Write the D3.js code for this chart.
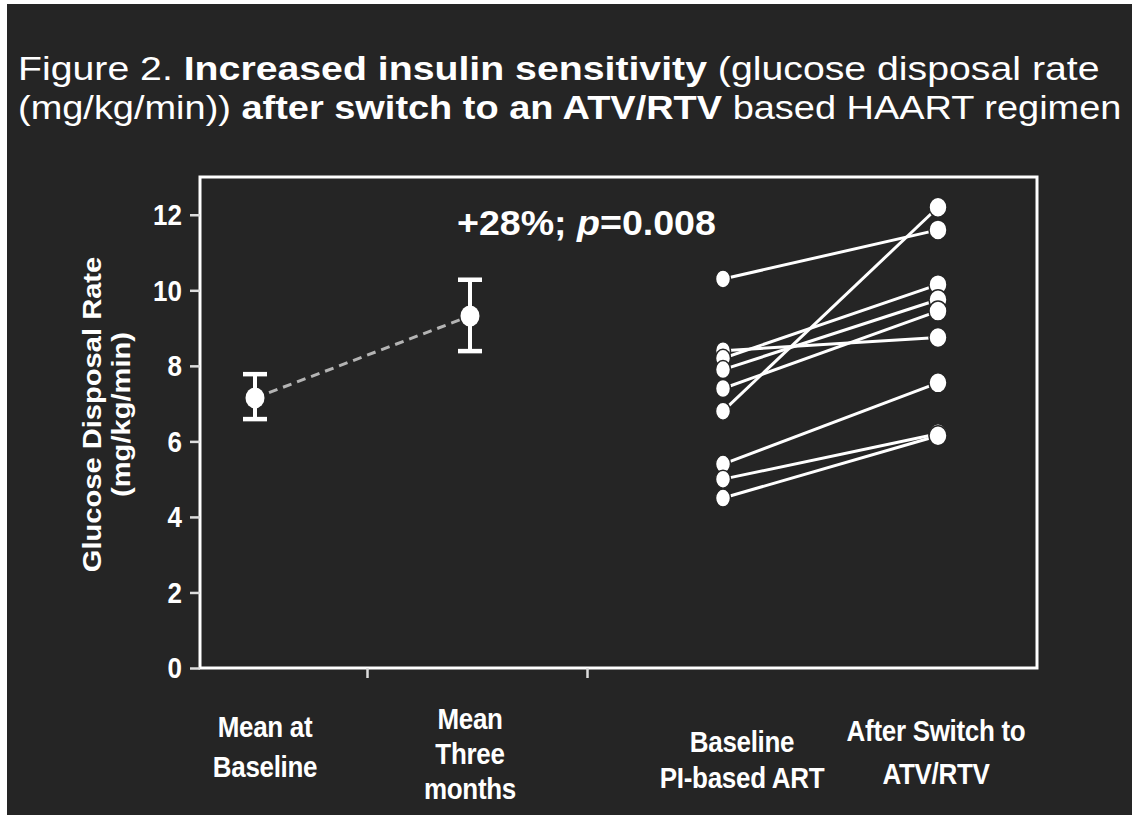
<!DOCTYPE html>
<html>
<head>
<meta charset="utf-8">
<script src="https://cdn.jsdelivr.net/npm/d3@7"></script>
<style>
body { margin: 0; background: #fff; }
svg { display: block; font-family: "Liberation Sans", Arial, sans-serif; }
text { white-space: pre; }
</style>
</head>
<body>
<svg id="chart" width="1132" height="815"></svg>
<script>
// left panel: group means with error bars
var summaryLabels = [["Mean at", "Baseline"], ["Mean", "Three", "months"]];
var summaryMean = [7.15, 9.32];
var summaryHigh = [7.78, 10.28];
var summaryLow = [6.59, 8.39];

// right panel: individual patients, before / after
var pairedLabels = [["Baseline", "PI-based ART"], ["After Switch to", "ATV/RTV"]];
var baselineValues = [10.3, 8.4, 8.2, 7.9, 7.4, 6.8, 5.4, 5.0, 4.5];
var afterValues = [11.6, 8.75, 10.15, 9.75, 9.45, 12.2, 7.55, 6.2, 6.15];

var yTicks = [0, 2, 4, 6, 8, 10, 12];
var yLabel = ["Glucose Disposal Rate", "(mg/kg/min)"];
var titleLine1 = [["Figure 2. ", false], ["Increased insulin sensitivity", true], [" (glucose disposal rate", false]];
var titleLine2 = [["(mg/kg/min)) ", false], ["after switch to an ATV/RTV", true], [" based HAART regimen", false]];

var svg = d3.select("#chart");
var bg = "#252525";

svg.append("rect").attr("x", 7).attr("y", 4).attr("width", 1125).attr("height", 811).attr("fill", bg);

var pLeft = 200, pRight = 1037, pTop = 177, pBottom = 668;

var y = d3.scaleLinear().domain([0, 13]).range([pBottom, pTop]);
var xSummary = d3.scalePoint().domain(summaryLabels.map(function(d) { return d.join(" "); })).range([255, 470]);
var xPaired = d3.scalePoint().domain(pairedLabels.map(function(d) { return d.join(" "); })).range([723, 938]);

// the scan is a little stretched vertically, so text is too
var stretchY = 1.12;

// Title, stretched to the width it has in the figure
function drawTitle(parts, ty, targetW) {
  var g = svg.append("g");
  var t = g.append("text").attr("fill", "#fff").style("font-size", "32px");
  parts.forEach(function(p) {
    t.append("tspan").text(p[0]).style("font-weight", p[1] ? "bold" : "normal");
  });
  var w = t.node().getComputedTextLength();
  g.attr("transform", "translate(18," + ty + ") scale(" + (targetW / w) + ",1.05)");
}
drawTitle(titleLine1, 80, 1082);
drawTitle(titleLine2, 119, 1104);

// Frame
svg.append("rect")
  .attr("x", pLeft).attr("y", pTop)
  .attr("width", pRight - pLeft).attr("height", pBottom - pTop)
  .attr("fill", "none").attr("stroke", "#fff").attr("stroke-width", 3);

// Y axis
var yAxis = d3.axisLeft(y).tickValues(yTicks).tickSize(10).tickPadding(8);
var ya = svg.append("g").attr("transform", "translate(" + pLeft + ",0)").call(yAxis);
ya.select(".domain").remove();
ya.selectAll(".tick line").attr("stroke", "#ddd").attr("stroke-width", 2.5);
ya.selectAll(".tick text")
  .attr("fill", "#fff")
  .style("font-size", "26px").style("font-weight", "bold")
  .attr("transform", "scale(1," + stretchY + ")")
  .attr("dy", "0.34em");

// X ticks: between the two means, and between the panels
var xTickPos = [
  (xSummary.range()[0] + xSummary.range()[1]) / 2 + 5,
  (xSummary.range()[1] + xPaired.range()[0]) / 2 - 9
];
svg.selectAll(".xtick").data(xTickPos).enter().append("line")
  .attr("x1", function(d) { return d; }).attr("x2", function(d) { return d; })
  .attr("y1", pBottom).attr("y2", pBottom + 10)
  .attr("stroke", "#ddd").attr("stroke-width", 2.5);

// Y label (rotated, so the vertical stretch lengthens it)
yLabel.forEach(function(s, i) {
  svg.append("text")
    .attr("transform", "translate(" + (101 + i * 29) + "," + ((pTop + pBottom) / 2 - 8) + ") rotate(-90) scale(" + stretchY + ",1)")
    .attr("text-anchor", "middle")
    .attr("fill", "#fff")
    .style("font-size", "26px").style("font-weight", "bold")
    .text(s);
});

// Category labels
function drawCategory(lines, cx, firstY, step) {
  lines.forEach(function(s, i) {
    svg.append("text")
      .attr("transform", "translate(" + cx + "," + (firstY + i * step) + ") scale(1," + stretchY + ")")
      .attr("text-anchor", "middle").attr("fill", "#fff")
      .style("font-size", "26px").style("font-weight", "bold").style("letter-spacing", "-0.3px")
      .text(s);
  });
}
summaryLabels.forEach(function(d, i) {
  drawCategory(d, xSummary(d.join(" ")) + (i === 0 ? 10 : 0), i === 0 ? 737 : 729, i === 0 ? 40 : 35);
});
pairedLabels.forEach(function(d, i) {
  drawCategory(d, xPaired(d.join(" ")) + (i === 0 ? 19 : -2), i === 0 ? 752 : 741, i === 0 ? 36 : 43);
});

// Summary panel: dashed link, error bars, mean points
var sx = summaryLabels.map(function(d) { return xSummary(d.join(" ")); });
svg.append("line")
  .attr("x1", sx[0]).attr("y1", y(summaryMean[0]))
  .attr("x2", sx[1]).attr("y2", y(summaryMean[1]))
  .attr("stroke", "#b4b4b4").attr("stroke-width", 3).attr("stroke-dasharray", "9,6");

var eb = svg.selectAll(".errbar").data(summaryMean).enter().append("g");
eb.append("line")
  .attr("x1", function(d, i) { return sx[i]; }).attr("x2", function(d, i) { return sx[i]; })
  .attr("y1", function(d, i) { return y(summaryHigh[i]); })
  .attr("y2", function(d, i) { return y(summaryLow[i]); })
  .attr("stroke", "#fff").attr("stroke-width", 4);
[summaryHigh, summaryLow].forEach(function(arr) {
  eb.append("line")
    .attr("x1", function(d, i) { return sx[i] - 12; }).attr("x2", function(d, i) { return sx[i] + 12; })
    .attr("y1", function(d, i) { return y(arr[i]); })
    .attr("y2", function(d, i) { return y(arr[i]); })
    .attr("stroke", "#fff").attr("stroke-width", 4.5);
});
eb.append("ellipse")
  .attr("cx", function(d, i) { return sx[i]; })
  .attr("cy", function(d) { return y(d); })
  .attr("rx", 9.5).attr("ry", 10.5).attr("fill", "#fff");

// Annotation: +28%; p=0.008
var annG = svg.append("g");
var ann = annG.append("text").attr("fill", "#fff")
  .style("font-size", "31px").style("font-weight", "bold");
ann.append("tspan").text("+28%; ");
ann.append("tspan").style("font-style", "italic").text("p");
ann.append("tspan").text("=0.008");
var annW = ann.node().getComputedTextLength();
annG.attr("transform", "translate(457,235) scale(" + (259 / annW) + "," + stretchY + ")");

// Paired panel
var px = pairedLabels.map(function(d) { return xPaired(d.join(" ")); });
svg.selectAll(".pair").data(baselineValues).enter().append("line")
  .attr("x1", px[0]).attr("x2", px[1])
  .attr("y1", function(d) { return y(d); })
  .attr("y2", function(d, i) { return y(afterValues[i]); })
  .attr("stroke", "#fff").attr("stroke-width", 3);

[baselineValues, afterValues].forEach(function(arr, k) {
  svg.selectAll(".dot" + k).data(arr).enter().append("ellipse")
    .attr("cx", px[k]).attr("cy", function(d) { return y(d); })
    .attr("rx", k === 0 ? 7.5 : 9).attr("ry", k === 0 ? 9 : 10)
    .attr("fill", "#fff").attr("stroke", bg).attr("stroke-width", 1.5);
});
</script>
</body>
</html>
